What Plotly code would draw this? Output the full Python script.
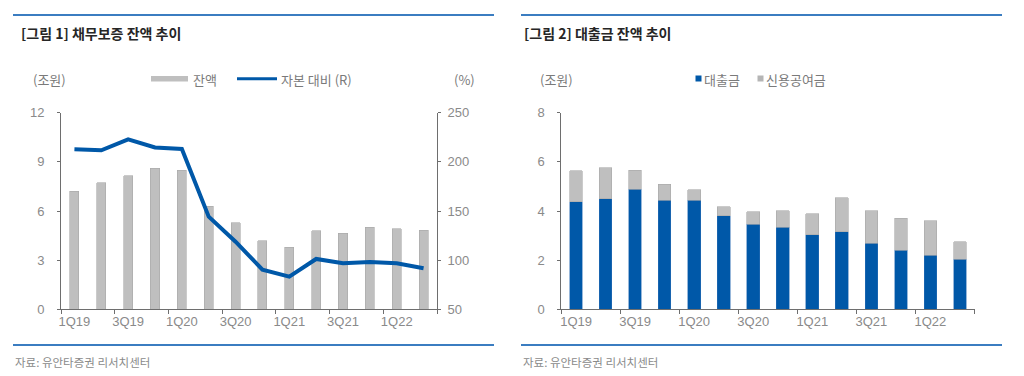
import plotly.graph_objects as go

# ---------------- data ----------------
quarters = ["1Q19", "2Q19", "3Q19", "4Q19", "1Q20", "2Q20", "3Q20", "4Q20",
            "1Q21", "2Q21", "3Q21", "4Q21", "1Q22", "2Q22"]
tick_labels = ["1Q19", "3Q19", "1Q20", "3Q20", "1Q21", "3Q21", "1Q22"]

guarantee_balance = [7.22, 7.73, 8.14, 8.60, 8.50, 6.28, 5.27, 4.17, 3.78, 4.78, 4.64, 5.02, 4.92, 4.82]
capital_ratio = [212.7, 211.7, 222.9, 214.7, 213.1, 144.2, 118.8, 90.3, 83.2, 101.2, 96.8, 98.1, 96.8, 91.7]

loans = [4.37, 4.49, 4.89, 4.43, 4.43, 3.81, 3.47, 3.34, 3.04, 3.15, 2.68, 2.40, 2.20, 2.03]
credit = [1.27, 1.26, 0.76, 0.65, 0.44, 0.37, 0.49, 0.67, 0.85, 1.39, 1.33, 1.30, 1.41, 0.72]

# ---------------- style ----------------
# the page body has an 8px margin, so the figure starts at (8, 8) on screen
OX, OY = 8, 8
W, H = 1016, 368
BLUE = "#0058A8"
GRAY_BAR = "#BFBFBF"
GRAY_EDGE = "#A9A9A9"
RULE = "#3B7DC1"
TICK_COL = "#8A8A8A"
AXIS_COL = "#6E6E6E"
TEXT_COL = "#7A7A7A"
TITLE_COL = "#262626"
FONT_LAT = "Liberation Sans, Arial, sans-serif"
FONT_KR = "Noto Sans CJK KR, sans-serif"


def px(x):
    return (x - OX) / W


def py(y):
    return 1 - (y - OY) / H


xpos = list(range(len(quarters)))
tickvals = xpos[::2]
boundaries = [i - 0.5 for i in range(0, len(quarters) + 1, 2)]

fig = go.Figure()

# left chart
fig.add_trace(go.Bar(x=xpos, y=guarantee_balance, width=0.34, xaxis="x", yaxis="y",
                     marker=dict(color=GRAY_BAR, line=dict(color=GRAY_EDGE, width=0.6)),
                     name="잔액", showlegend=False))
fig.add_trace(go.Scatter(x=xpos, y=capital_ratio, xaxis="x", yaxis="y2", mode="lines",
                         line=dict(color=BLUE, width=4), name="자본 대비 (R)", showlegend=False))

# right chart
fig.add_trace(go.Bar(x=xpos, y=loans, width=0.43, xaxis="x2", yaxis="y3",
                     marker=dict(color=BLUE, line=dict(color="#2F6FB5", width=0.5)),
                     name="대출금", showlegend=False))
fig.add_trace(go.Bar(x=xpos, y=credit, width=0.43, xaxis="x2", yaxis="y3",
                     marker=dict(color=GRAY_BAR, line=dict(color=GRAY_EDGE, width=0.6)),
                     name="신용공여금", showlegend=False))

ydom = [py(309.3), py(112.7)]

xaxis_common = dict(
    range=[-0.5, len(quarters) - 0.5],
    tickmode="array", tickvals=tickvals, ticktext=tick_labels,
    ticks="", showline=True, linecolor=AXIS_COL, linewidth=1,
    showgrid=False, zeroline=False, automargin=False,
    tickfont=dict(family=FONT_LAT, size=13, color=TICK_COL),
    minor=dict(tickmode="array", tickvals=boundaries, ticks="outside",
               ticklen=4, tickcolor=AXIS_COL, tickwidth=1, showgrid=False),
    fixedrange=True,
)

yaxis_common = dict(
    showline=True, linecolor=AXIS_COL, linewidth=1, showgrid=False, zeroline=False,
    ticks="outside", ticklen=3, tickcolor=AXIS_COL, automargin=False,
    tickfont=dict(family=FONT_LAT, size=13, color=TICK_COL),
    domain=ydom, fixedrange=True,
)

fig.update_layout(
    width=W, height=H,
    margin=dict(l=0, r=0, t=0, b=0, pad=0, autoexpand=False),
    paper_bgcolor="white", plot_bgcolor="white",
    barmode="stack",
    showlegend=False,
    xaxis=dict(domain=[px(61), px(437)], anchor="y", **xaxis_common),
    xaxis2=dict(domain=[px(561.3), px(974.7)], anchor="y3", **xaxis_common),
    yaxis=dict(anchor="x", range=[0, 12], tickmode="linear", tick0=0, dtick=3,
               ticklabelstandoff=10, **yaxis_common),
    yaxis2=dict(anchor="x", overlaying="y", side="right", range=[50, 250],
                tickmode="linear", tick0=50, dtick=50, ticklabelstandoff=4, **yaxis_common),
    yaxis3=dict(anchor="x2", range=[0, 8], tickmode="linear", tick0=0, dtick=2,
                ticklabelstandoff=10, **yaxis_common),
)

shapes = []
# rules
for x0, x1 in [(13, 494), (521, 1002)]:
    shapes.append(dict(type="line", xref="paper", yref="paper", x0=px(x0), x1=px(x1),
                       y0=py(15), y1=py(15), line=dict(color=RULE, width=2)))
    shapes.append(dict(type="line", xref="paper", yref="paper", x0=px(x0), x1=px(x1),
                       y0=py(345), y1=py(345), line=dict(color=RULE, width=2)))
# left legend swatches
shapes.append(dict(type="rect", xref="paper", yref="paper", x0=px(151), x1=px(188),
                   y0=py(81.5), y1=py(76), fillcolor=GRAY_BAR, line=dict(width=0)))
shapes.append(dict(type="line", xref="paper", yref="paper", x0=px(237), x1=px(277),
                   y0=py(78.7), y1=py(78.7), line=dict(color=BLUE, width=3)))
# right legend swatches
shapes.append(dict(type="rect", xref="paper", yref="paper", x0=px(695.5), x1=px(701.5),
                   y0=py(81.5), y1=py(75.5), fillcolor=BLUE, line=dict(width=0)))
shapes.append(dict(type="rect", xref="paper", yref="paper", x0=px(757.5), x1=px(763.5),
                   y0=py(81.5), y1=py(75.5), fillcolor="#B5B5B5", line=dict(width=0)))
fig.update_layout(shapes=shapes)


def ann(x, y, text, size=13, color=TEXT_COL, family=FONT_KR, xanchor="left"):
    fig.add_annotation(xref="paper", yref="paper", x=px(x), y=py(y), text=text,
                       showarrow=False, xanchor=xanchor, yanchor="middle",
                       font=dict(family=family, size=size, color=color))


ann(19, 33, "<b>[그림 1] 채무보증 잔액 추이</b>", size=14, color=TITLE_COL)
ann(522, 33, "<b>[그림 2] 대출금 잔액 추이</b>", size=14, color=TITLE_COL)
ann(31, 79, "(조원)")
ann(452, 79, "(%)")
ann(191, 79, "잔액")
ann(279, 79, "자본 대비 (R)")
ann(538, 79, "(조원)")
ann(702, 79, "대출금")
ann(764, 79, "신용공여금")
ann(13, 362, "자료: 유안타증권 리서치센터", size=11.5, color="#8A8A8A")
ann(521, 362, "자료: 유안타증권 리서치센터", size=11.5, color="#8A8A8A")

fig.write_html("out.html")
